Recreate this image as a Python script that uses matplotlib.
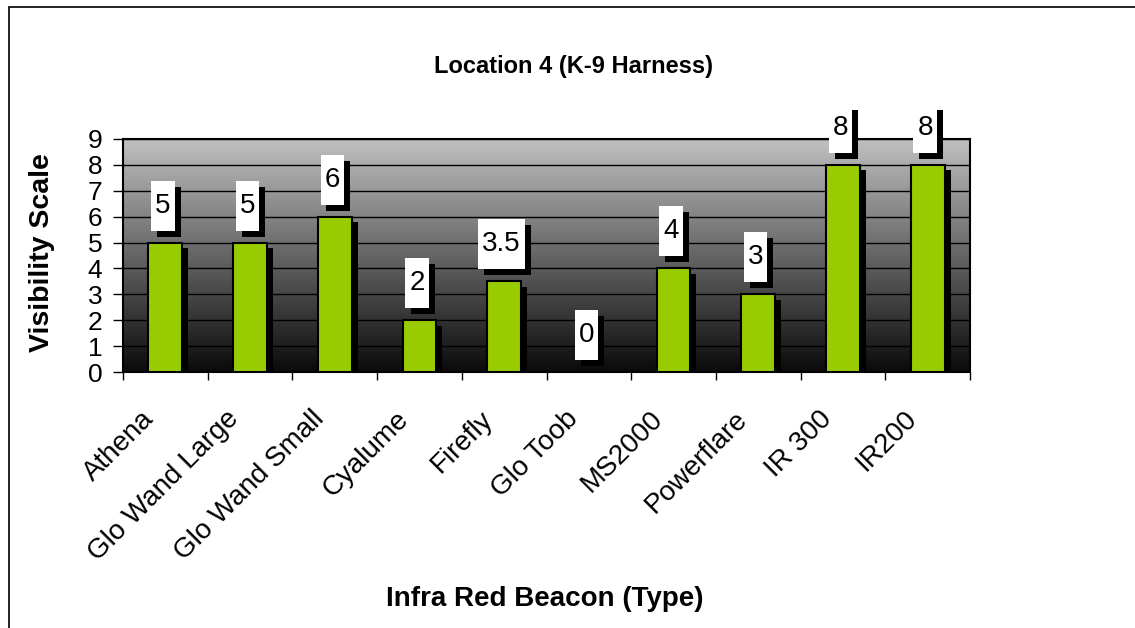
import numpy as np
import matplotlib
matplotlib.use("Agg")
import matplotlib.pyplot as plt
import matplotlib.patheffects as pe
from matplotlib.colors import LinearSegmentedColormap
from matplotlib.patches import Rectangle
from matplotlib.path import Path
import matplotlib.transforms as mtransforms

categories = ["Athena", "Glo Wand Large", "Glo Wand Small", "Cyalume", "Firefly",
              "Glo Toob", "MS2000", "Powerflare", "IR 300", "IR200"]
values = [5, 5, 6, 2, 3.5, 0, 4, 3, 8, 8]
labels = ["5", "5", "6", "2", "3.5", "0", "4", "3", "8", "8"]
yticks = list(range(0, 10))

W, H = 1135, 628
plt.rcParams['font.family'] = ['Liberation Sans', 'DejaVu Sans']
fig = plt.figure(figsize=(W / 100, H / 100), dpi=100)

# outer chart border
fig.patches.append(Rectangle((9 / W, 0 - 0.01), 1.1, (H - 7) / H + 0.01, transform=fig.transFigure,
                             fill=False, edgecolor='black', linewidth=1.2))

ax_l, ax_r, ax_t, ax_b = 123, 970, 139, 372
ax = fig.add_axes([ax_l / W, (H - ax_b) / H, (ax_r - ax_l) / W, (ax_b - ax_t) / H])

n = len(categories)
x = np.arange(n)
ax.set_xlim(-0.5, n - 0.5)
ax.set_ylim(0, 9)

# gradient background
cmap = LinearSegmentedColormap.from_list("g", ["#0a0a0a", "#c0c0c0"])
grad = np.linspace(0, 1, 256).reshape(-1, 1)
ax.imshow(grad, aspect='auto', cmap=cmap, origin='lower', extent=[0, 1, 0, 1],
          transform=ax.transAxes, zorder=0)

ax.set_yticks(yticks)
ax.yaxis.grid(True, color='black', linewidth=1.0, zorder=1)
ax.set_axisbelow(True)

bars = ax.bar(x, values, width=0.4, color='#99cc00', edgecolor='black', linewidth=1.5, zorder=3)
for b in bars:
    b.set_path_effects([pe.SimplePatchShadow(offset=(4.3, -3.8), shadow_rgbFace='black', alpha=1.0),
                        pe.Normal()])

PX, PY = 4, 12
def label_box(x0, y0, width, height, mutation_size):
    x0 -= PX; width += 2 * PX
    y0 -= PY; height += 2 * PY
    return Path([(x0, y0), (x0 + width, y0), (x0 + width, y0 + height), (x0, y0 + height), (x0, y0)],
                closed=True)

clip_rect = Rectangle((0, 0), 1, (H - 110) / H, transform=fig.transFigure)
for xi, v, lab in zip(x, values, labels):
    t = ax.annotate(lab, xy=(xi - 0.03, v), xytext=(0, 37), textcoords='offset pixels',
                    ha='center', va='center', fontsize=20, color='black', zorder=5,
                    bbox=dict(boxstyle=label_box, fc='white', ec='none'),
                    annotation_clip=False)
    t.get_bbox_patch().set_path_effects([pe.SimplePatchShadow(offset=(4.3, -4.3), shadow_rgbFace='black', alpha=1.0),
                                         pe.Normal()])
    t.set_clip_path(clip_rect)

# ticks
ax.set_xticks(x)
ax.set_xticks(np.arange(-0.5, n, 1), minor=True)
ax.tick_params(axis='x', which='major', length=0, pad=0)
ax.tick_params(axis='x', which='minor', length=6, width=1, direction='out', color='black')
ax.set_xticklabels(categories, rotation=45, ha='right', va='center', rotation_mode='anchor', fontsize=20)
offset = mtransforms.ScaledTranslation(-15 / 100, -43 / 100, fig.dpi_scale_trans)
for lbl in ax.get_xticklabels():
    lbl.set_transform(lbl.get_transform() + offset)

ax.tick_params(axis='y', length=7, width=1, direction='out', pad=8, labelsize=19)

for s in ax.spines.values():
    s.set_color('black')
    s.set_linewidth(1.5)

fig.text(573 / W, 1 - 66 / H, "Location 4 (K-9 Harness)", ha='center', va='center',
         fontsize=17, fontweight='bold')
fig.text(545 / W, 1 - 599 / H, "Infra Red Beacon (Type)", ha='center', va='center',
         fontsize=20, fontweight='bold')
fig.text(42 / W, 1 - 253 / H, "Visibility Scale", ha='center', va='center', rotation=90,
         fontsize=20.5, fontweight='bold')

fig.savefig("out.png", dpi=100)
